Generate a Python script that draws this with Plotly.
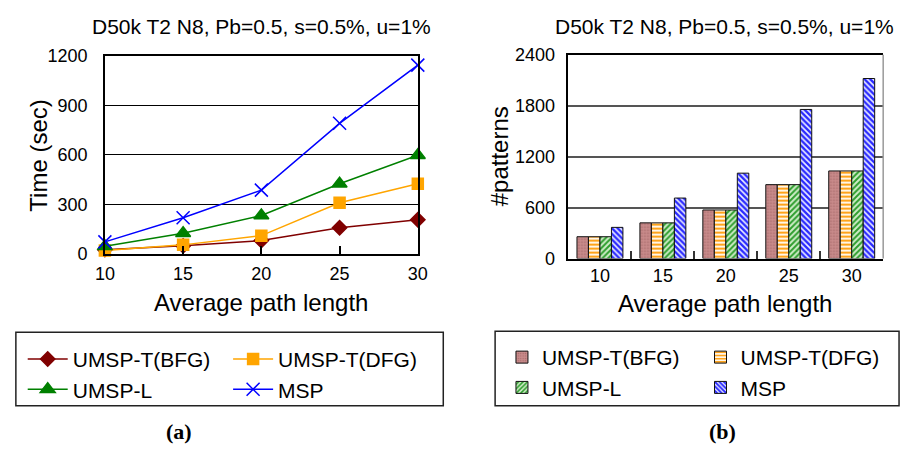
import plotly.graph_objects as go

# Average path length values (x axis of both panels)
path_len = [10, 15, 20, 25, 30]
path_len_labels = ["10", "15", "20", "25", "30"]

# (a) running time in seconds
time_bfg = [25, 48, 80, 158, 206]
time_dfg = [20, 54, 110, 309, 425]
time_umsp_l = [45, 125, 232, 425, 598]
time_msp = [72, 218, 386, 791, 1144]

# (b) number of patterns found
pat_bfg = [257, 420, 572, 870, 1031]
pat_dfg = [257, 420, 572, 870, 1031]
pat_umsp_l = [257, 420, 572, 870, 1031]
pat_msp = [367, 712, 1005, 1755, 2119]

time_ticks = [0, 300, 600, 900, 1200]
pat_ticks = [0, 600, 1200, 1800, 2400]

names = ["UMSP-T(BFG)", "UMSP-T(DFG)", "UMSP-L", "MSP"]
FONT = "Liberation Sans, Arial, sans-serif"

fig = go.Figure()

# ---- (a) line chart ----
line_styles = [
    (time_bfg, "#800000", "diamond", 11, "legend"),
    (time_dfg, "#ffa500", "square", 11, "legend2"),
    (time_umsp_l, "#008000", "triangle-up", 13, "legend"),
    (time_msp, "#0000ff", "x-thin", 13, "legend2"),
]
for name, (vals, color, sym, size, leg) in zip(names, line_styles):
    fig.add_trace(go.Scatter(
        x=path_len, y=vals, name=name, mode="lines+markers",
        line=dict(color=color, width=1.5),
        marker=dict(symbol=sym, size=size, color=color,
                    line=dict(color=color, width=1.5)),
        cliponaxis=False, xaxis="x", yaxis="y", legend=leg,
    ))

# ---- (b) grouped bar chart ----
bar_styles = [
    (pat_bfg, ".", "#a86a6a", "#c98b8b", 3, 0.25, "legend3"),
    (pat_dfg, "-", "#ffa31a", "#ffffff", 4, 0.55, "legend4"),
    (pat_umsp_l, "/", "#2e9e2e", "#d0ecc8", 4, 0.5, "legend3"),
    (pat_msp, "\\", "#2a2aff", "#eef0ff", 4, 0.6, "legend4"),
]
for name, (vals, shape, fg, bg, psize, sol, leg) in zip(names, bar_styles):
    fig.add_trace(go.Bar(
        x=path_len_labels, y=vals, name=name,
        marker=dict(color=bg, line=dict(color="#111111", width=1),
                    pattern=dict(shape=shape, fgcolor=fg, bgcolor=bg,
                                 size=psize, solidity=sol, fillmode="replace")),
        xaxis="x2", yaxis="y2", legend=leg,
    ))

tick_font = dict(family=FONT, size=18, color="black")
legend_common = dict(font=dict(family=FONT, size=21, color="black"),
                     bgcolor="rgba(0,0,0,0)", borderwidth=0,
                     orientation="v", xanchor="left", yanchor="top",
                     tracegroupgap=0)

fig.update_layout(
    width=911, height=455,
    margin=dict(l=0, r=0, t=0, b=0),
    paper_bgcolor="white", plot_bgcolor="white",
    font=dict(family=FONT, color="black"),
    barmode="group", bargap=0.27, bargroupgap=0,
    showlegend=True,
    xaxis=dict(domain=[0.1065, 0.4577], anchor="y", range=[10, 30],
               tickvals=path_len, ticks="inside", ticklen=8, tickwidth=1.5,
               tickcolor="black", showline=True, linecolor="black",
               linewidth=2, mirror=True, showgrid=False, zeroline=False,
               tickfont=tick_font, ticklabelstandoff=3),
    yaxis=dict(domain=[0.4396, 0.8945], anchor="x", range=[0, 1200],
               tickvals=time_ticks, ticks="", showline=True,
               linecolor="black", linewidth=1.5, mirror=True,
               showgrid=True, gridcolor="black", gridwidth=1,
               zeroline=False, tickfont=tick_font, ticklabelstandoff=12),
    xaxis2=dict(domain=[0.6268, 0.980], anchor="y2", type="category",
                tickson="boundaries", ticks="inside", ticklen=8,
                tickwidth=1.5, tickcolor="#333333", showline=True,
                linecolor="black", linewidth=2, mirror=True,
                showgrid=False, tickfont=tick_font, ticklabelstandoff=0),
    yaxis2=dict(domain=[0.4286, 0.8974], anchor="x2", range=[0, 2400],
                tickvals=pat_ticks, ticks="", showline=True,
                linecolor="black", linewidth=1.5, mirror=False,
                showgrid=True, gridcolor="#555555", gridwidth=1.5,
                zeroline=False, tickfont=tick_font, ticklabelstandoff=8),
    legend=dict(x=13 / 911, y=1 - 344 / 455, itemwidth=40, **legend_common),
    legend2=dict(x=223 / 911, y=1 - 344 / 455, itemwidth=40, **legend_common),
    legend3=dict(x=503 / 911, y=1 - 342 / 455, itemwidth=30, **legend_common),
    legend4=dict(x=706 / 911, y=1 - 342 / 455, itemwidth=30, **legend_common),
)

# right border of panel (b) in grey
fig.add_shape(type="line", xref="x2 domain", yref="y2 domain",
              x0=1, x1=1, y0=0, y1=1, line=dict(color="#999999", width=1.5))

# legend frames
fig.add_shape(type="rect", xref="paper", yref="paper",
              x0=6 / 911, x1=443 / 911, y0=1 - 414 / 455, y1=1 - 337 / 455,
              line=dict(color="#222222", width=1.5))
fig.add_shape(type="rect", xref="paper", yref="paper",
              x0=496 / 911, x1=909 / 911, y0=1 - 414 / 455, y1=1 - 336 / 455,
              line=dict(color="#222222", width=1.5))

def note(text, x, y, size, angle=0, family=FONT, bold=False):
    fig.add_annotation(
        text=f"<b>{text}</b>" if bold else text,
        x=x / 911, y=1 - y / 455, xref="paper", yref="paper",
        showarrow=False, textangle=angle, xanchor="center", yanchor="middle",
        font=dict(family=family, size=size, color="black"))

title = "D50k T2 N8, Pb=0.5, s=0.5%, u=1%"
note(title, 257, 17, 21)
note(title, 731, 17, 21)
note("Time (sec)", 29, 152, 24, angle=-90)
note("#patterns", 500, 153, 24, angle=-90)
note("Average path length", 257, 306, 24)
note("Average path length", 731, 307, 24)
note("(a)", 173, 441, 22, family="Liberation Serif, Times New Roman, serif", bold=True)
note("(b)", 728, 441, 22, family="Liberation Serif, Times New Roman, serif", bold=True)

fig.write_html("out.html")
